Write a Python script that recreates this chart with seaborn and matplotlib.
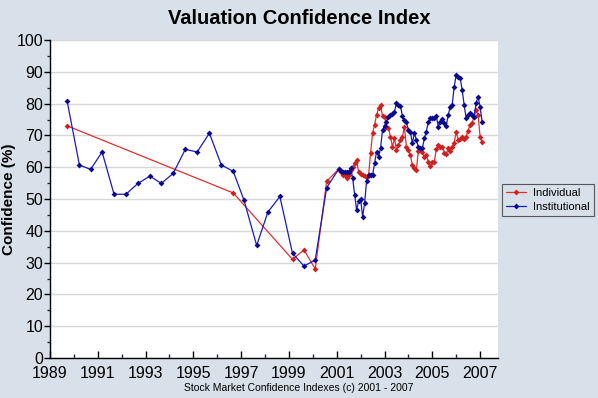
import numpy as np
import pandas as pd
import matplotlib
matplotlib.use("Agg")
import matplotlib.pyplot as plt
import seaborn as sns

# early (roughly semiannual) survey readings, decimal years
early_years_inst = [1989.72, 1990.23, 1990.70, 1991.18, 1991.68, 1992.18, 1992.68, 1993.18,
                    1993.66, 1994.16, 1994.66, 1995.16, 1995.67, 1996.17, 1996.67, 1997.12,
                    1997.65, 1998.12, 1998.62, 1999.15, 1999.63, 2000.10, 2000.58]
early_inst = [80.7, 60.7, 59.3, 64.8, 51.5, 51.5, 54.9, 57.2,
              54.9, 58.1, 65.6, 64.8, 70.7, 60.7, 58.7, 49.6,
              35.4, 45.9, 50.8, 32.9, 28.9, 30.8, 53.6]

early_years_ind = [1989.72, 1996.67, 1999.15, 1999.63, 2000.10, 2000.58]
early_ind = [73.0, 51.9, 31.0, 34.0, 28.0, 55.6]

# monthly readings from Feb 2001
monthly_start = "2001-02"
monthly_inst = [59.4, 58.8, 58.5, 58.6, 58.6, 58.5, 59.9, 56.6, 51.3, 46.5, 49.4, 50.0,
                44.4, 48.6, 55.7, 57.5, 57.5, 57.5, 61.2, 64.9, 63.3, 65.9, 71.7, 73.0,
                74.3, 75.7, 76.4, 76.6, 77.5, 80.1, 79.6, 79.2, 76.1, 74.8, 74.1, 71.7,
                71.2, 67.5, 70.7, 68.6, 66.4, 65.9, 65.9, 69.1, 71.2, 74.3, 75.4, 75.6,
                75.4, 76.1, 72.7, 74.3, 75.1, 74.0, 73.0, 76.4, 79.0, 79.6, 85.3, 89.0,
                88.5, 88.0, 84.3, 79.6, 75.4, 76.4, 77.1, 76.4, 75.9, 80.1, 82.2, 79.0,
                74.3]
monthly_ind = [59.4, 58.5, 57.5, 57.5, 56.7, 57.5, 59.1, 60.2, 61.2, 62.3, 58.4, 57.8,
               57.4, 57.2, 57.0, 57.5, 64.4, 70.7, 73.3, 76.4, 78.5, 79.6, 76.1, 75.9,
               72.7, 72.2, 69.6, 66.4, 69.1, 65.4, 67.0, 68.6, 69.6, 72.7, 66.4, 65.4,
               63.8, 60.7, 59.7, 59.1, 65.2, 65.4, 64.9, 63.1, 63.8, 61.7, 60.4, 61.7,
               61.7, 65.6, 67.0, 66.3, 66.3, 64.6, 64.2, 65.9, 65.2, 66.4, 67.7, 71.2,
               68.6, 68.8, 69.6, 68.8, 69.6, 71.5, 73.3, 74.0, 75.9, 78.0, 76.4, 69.6,
               68.0]

months = pd.date_range(monthly_start, periods=len(monthly_inst), freq="MS")
month_years = list(months.year + (months.month - 1) / 12.0)

inst = pd.DataFrame({"year": early_years_inst + month_years, "value": early_inst + monthly_inst})
ind = pd.DataFrame({"year": early_years_ind + month_years, "value": early_ind + monthly_ind})

sns.set_theme(style="white")
plt.rcParams["font.family"] = ["Liberation Sans", "DejaVu Sans"]
plt.rcParams["text.color"] = "black"
plt.rcParams["axes.labelcolor"] = "black"

bg = "#d8e1e9"
fig = plt.figure(figsize=(5.98, 3.98), dpi=100, facecolor=bg)
ax = fig.add_axes([50 / 598, 1 - 358 / 398, 448 / 598, 318 / 398])
ax.set_facecolor("white")

sns.lineplot(data=ind, x="year", y="value", ax=ax, sort=False, color="#e03030",
             lw=0.9, marker="D", markersize=3, markeredgewidth=0,
             markerfacecolor="#cc2222", label="Individual")
sns.lineplot(data=inst, x="year", y="value", ax=ax, sort=False, color="#1a1ac0",
             lw=0.9, marker="D", markersize=3, markeredgewidth=0,
             markerfacecolor="#0a0a90", label="Institutional")

ax.set_xlim(1989, 2007.75)
ax.set_ylim(0, 100)
ax.set_xticks(range(1989, 2008, 2))
ax.set_xticks(range(1989, 2008), minor=True)
ax.set_yticks(range(0, 101, 10))
ax.set_yticks(range(0, 101, 5), minor=True)
ax.yaxis.grid(True, which="major", color="#d8d8d8", lw=1)
ax.set_axisbelow(True)

for s in ["top", "right"]:
    ax.spines[s].set_visible(False)
for s in ["left", "bottom"]:
    ax.spines[s].set_color("black")
    ax.spines[s].set_linewidth(1)

ax.tick_params(axis="y", which="major", direction="out", length=4, width=1,
               left=True, labelsize=11.5, pad=1, colors="black")
ax.tick_params(axis="y", which="minor", direction="out", length=2.5, width=1, left=True)
ax.tick_params(axis="x", which="major", direction="in", length=5, width=1,
               bottom=True, labelsize=11.5, pad=6, colors="black")
ax.tick_params(axis="x", which="minor", direction="in", length=3, width=1, bottom=True)

ax.set_xlabel("")
ax.set_ylabel("Confidence (%)", fontsize=11, fontweight="bold")
ax.yaxis.set_label_coords(-34 / 448, 0.5)
ax.legend_.remove()

fig.text(0.5, 1 - 18 / 398, "Valuation Confidence Index", ha="center", va="center",
         fontsize=14.5, fontweight="bold")
fig.text(0.5, 1 - 388 / 398, "Stock Market Confidence Indexes (c) 2001 - 2007",
         ha="center", va="center", fontsize=7.5)

handles, labels = ax.get_legend_handles_labels()
leg = fig.legend(handles, labels, loc="center left", bbox_to_anchor=(502 / 598, 1 - 200 / 398),
                 borderaxespad=0, fontsize=8, frameon=True, fancybox=False, facecolor=bg,
                 edgecolor="#333333", handlelength=1.8, borderpad=0.4, labelspacing=0.3,
                 handletextpad=0.6)
leg.get_frame().set_linewidth(0.8)

fig.savefig("out.png", dpi=100, facecolor=bg)
